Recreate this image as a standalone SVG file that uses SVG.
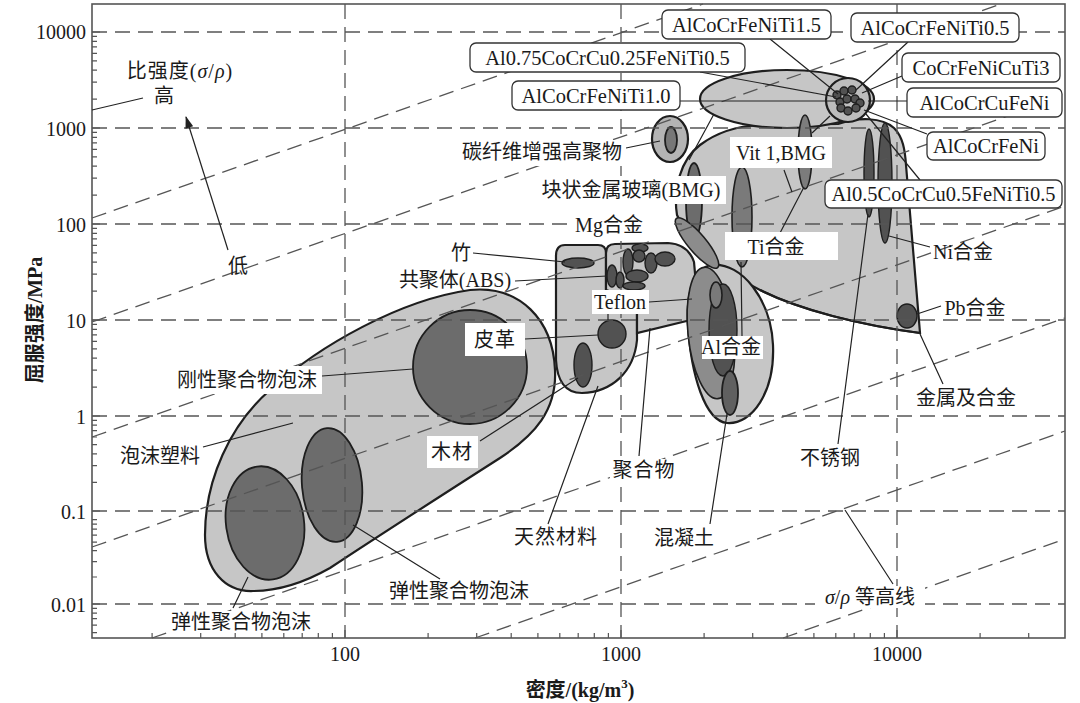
<svg xmlns="http://www.w3.org/2000/svg" width="1080" height="703" viewBox="0 0 1080 703">
<defs>
<marker id="arr" viewBox="0 0 12 8" refX="11" refY="4" markerWidth="13" markerHeight="8" markerUnits="userSpaceOnUse" orient="auto"><path d="M0,0 L12,4 L0,8 Z" fill="#222"/></marker>
</defs>
<style>
.env{fill:#c6c6c6;stroke:#1e1e1e;stroke-width:2.2}
.dk{fill:#6c6c6c;stroke:#1e1e1e;stroke-width:1.8}
.dd{fill:#525252;stroke:#1e1e1e;stroke-width:1.4}
.md{fill:#8c8c8c;stroke:#1e1e1e;stroke-width:1.6}
.grid{stroke:#555;stroke-width:1.3;stroke-dasharray:15 8;fill:none}
.lead{stroke:#222;stroke-width:1.2;fill:none}
.t{font-family:"Liberation Serif","Noto Sans CJK SC",serif;font-size:20px;fill:#1a1a1a;text-anchor:middle;dominant-baseline:central}
.h{font-size:20.5px}
.ax{font-family:"Liberation Serif","Noto Sans CJK SC",serif;font-size:20px;fill:#1a1a1a;dominant-baseline:central}
.box{fill:#fff}
.rb{fill:#fff;stroke:#333;stroke-width:1.3}
.tick{stroke:#555;stroke-width:1.2}
</style>
<rect width="1080" height="703" fill="#fff"/>

<!-- material regions -->
<g id="foams">
<path class="env" d="M253,591 C225,592 205,570 205,535 C205,480 230,425 270,390 C320,345 400,300 470,290 C520,285 553,320 555,370 C557,410 535,435 500,458 C450,490 380,535 330,568 C300,585 275,591 253,591 Z"/>
<ellipse class="dk" cx="265" cy="523" rx="39" ry="57" transform="rotate(-8 265 523)"/>
<ellipse class="dk" cx="332" cy="485" rx="30" ry="57" transform="rotate(-5 332 485)"/>
<circle class="dk" cx="470" cy="367" r="57"/>
</g>
<g id="natural">
<path class="env" d="M565,245 L598,245 Q606,245 606,253 L606,290 L637,300 L637,340 C634,372 612,392 582,393 C565,393 557,380 556,360 L556,256 Q556,245 565,245 Z"/>
<ellipse class="dd" cx="578" cy="263" rx="16" ry="5"/>
<ellipse class="dd" cx="583" cy="365" rx="9" ry="22"/>
<circle class="dd" cx="612" cy="334" r="14"/>
</g>
<g id="polymers">
<path class="env" d="M606,290 L606,253 Q606,244 615,244 L668,243 Q688,244 694,262 L699,318 L637,333 L637,300 Z"/>
<ellipse class="dd" cx="640" cy="248" rx="8" ry="4"/>
<ellipse class="dd" cx="612" cy="276" rx="5" ry="11"/>
<ellipse class="dd" cx="620" cy="280" rx="4" ry="8"/>
<ellipse class="dd" cx="628" cy="262" rx="5" ry="13"/>
<ellipse class="dd" cx="639" cy="256" rx="6" ry="6"/>
<ellipse class="dd" cx="651" cy="263" rx="6" ry="10"/>
<ellipse class="dd" cx="665" cy="259" rx="10" ry="7"/>
<ellipse class="dd" cx="637" cy="276" rx="11" ry="6"/>
<ellipse class="dd" cx="634" cy="286" rx="11" ry="4"/>
</g>
<g id="metals">
<path class="env" d="M677,215 C673,190 680,160 700,145 C716,133 736,126 760,125 L838,124 C858,117 882,117 894,128 C903,137 905,150 906,165 L920,333 C860,325 800,310 760,290 C720,270 690,245 677,215 Z"/>
<ellipse class="dk" cx="694" cy="201" rx="8" ry="38"/>
<ellipse class="md" cx="742" cy="217" rx="10" ry="50" style="fill:#7a7a7a"/>
<ellipse class="dd" cx="869" cy="173" rx="5" ry="44"/>
<ellipse class="dd" cx="885" cy="183" rx="7" ry="60"/>
<ellipse class="dd" cx="907" cy="316" rx="10" ry="12"/>
</g>
<g id="al-concrete">
<path class="env" d="M712,265 C742,262 771,300 773,345 C775,392 752,425 727,423 C705,421 691,375 688,325 C686,292 694,267 712,265 Z"/>
<ellipse class="md" cx="711" cy="333" rx="23" ry="66" transform="rotate(-6 711 333)"/>
<ellipse class="dd" cx="723" cy="330" rx="14" ry="46"/>
<ellipse class="md" cx="716" cy="295" rx="6" ry="13" style="fill:#7a7a7a"/>
<ellipse class="dk" cx="730" cy="393" rx="8" ry="22" style="fill:#606060"/>
<path d="M760,290 C800,310 860,325 920,333" fill="none" stroke="#1e1e1e" stroke-width="2.2"/>
</g>
<g id="mg">
<ellipse class="md" cx="697" cy="243" rx="9" ry="32" transform="rotate(-40 697 243)"/>
</g>
<g id="hea">
<ellipse class="env" cx="787" cy="99" rx="87" ry="29"/>
<ellipse class="md" cx="805" cy="152" rx="7" ry="37" style="fill:#7c7c7c"/>
<circle class="env" cx="848" cy="100" r="22" style="fill:#bdbdbd"/>
<g class="dd">
<circle cx="837" cy="95" r="4"/><circle cx="844" cy="91" r="4"/><circle cx="852" cy="90" r="4"/>
<circle cx="840" cy="102" r="4"/><circle cx="847" cy="99" r="4"/><circle cx="855" cy="99" r="4"/>
<circle cx="860" cy="103" r="4"/><circle cx="841" cy="108" r="4"/><circle cx="848" cy="111" r="4"/>
<circle cx="856" cy="108" r="4"/>
</g>
</g>
<g id="cfrp">
<ellipse class="env" cx="670" cy="139" rx="18" ry="23" style="fill:#b4b4b4"/>
<ellipse class="dk" cx="671" cy="140" rx="6" ry="13" style="fill:#777"/>
</g>

<!-- grid and contour lines -->
<g id="grid">
<path class="grid" d="M92,32H1065 M92,128H1065 M92,224H1065 M92,320H1065 M92,416H1065 M92,511H1065 M92,604H1065 M345,4V638 M621,4V638 M897,4V638"/>
<path class="grid" d="M92,218L703,4 M92,322L1001,4 M92,437L1065,96 M92,547L1065,206 M152,638L1065,318 M475,638L1065,431 M783,638L1065,539"/>
</g>

<g id="axes">
<rect x="92" y="4" width="973" height="634" fill="none" stroke="#555" stroke-width="1.6"/>
<path class="tick" d="M92,32h8 M92,128h8 M92,224h8 M92,320h8 M92,416h8 M92,511h8 M92,604h8
M92,99.1h5 M92,82.2h5 M92,70.2h5 M92,60.9h5 M92,53.3h5 M92,46.9h5 M92,41.3h5 M92,36.4h5
M92,195.1h5 M92,178.2h5 M92,166.2h5 M92,156.9h5 M92,149.3h5 M92,142.9h5 M92,137.3h5 M92,132.4h5
M92,291.1h5 M92,274.2h5 M92,262.2h5 M92,252.9h5 M92,245.3h5 M92,238.9h5 M92,233.3h5 M92,228.4h5
M92,387.1h5 M92,370.2h5 M92,358.2h5 M92,348.9h5 M92,341.3h5 M92,334.9h5 M92,329.3h5 M92,324.4h5
M92,482.4h5 M92,465.7h5 M92,453.8h5 M92,444.6h5 M92,437.0h5 M92,430.7h5 M92,425.2h5 M92,420.3h5
M92,577.0h5 M92,561.6h5 M92,550.6h5 M92,542.1h5 M92,535.1h5 M92,529.2h5 M92,524.1h5 M92,519.6h5
M92,632.6h5 M92,625.1h5 M92,618.7h5 M92,613.2h5 M92,608.3h5
M345,638v-8 M621,638v-8 M897,638v-8
M152.1,638v-5 M200.7,638v-5 M235.2,638v-5 M261.9,638v-5 M283.8,638v-5 M302.2,638v-5 M318.3,638v-5 M332.4,638v-5
M428.1,638v-5 M476.7,638v-5 M511.2,638v-5 M537.9,638v-5 M559.8,638v-5 M578.2,638v-5 M594.3,638v-5 M608.4,638v-5
M704.1,638v-5 M752.7,638v-5 M787.2,638v-5 M813.9,638v-5 M835.8,638v-5 M854.2,638v-5 M870.3,638v-5 M884.4,638v-5
M980.1,638v-5 M1028.7,638v-5"/>
<g class="ax" text-anchor="end">
<text x="86" y="32">10000</text><text x="86" y="129">1000</text><text x="86" y="225">100</text>
<text x="86" y="321">10</text><text x="86" y="417">1</text><text x="86" y="512">0.1</text><text x="86" y="605">0.01</text>
</g>
<g class="ax" text-anchor="middle">
<text x="345" y="654">100</text><text x="621" y="654">1000</text><text x="897" y="654">10000</text>
</g>
<text class="t" font-weight="bold" transform="translate(35,320) rotate(-90)">屈服强度/MPa</text>
<text class="t" font-weight="bold" x="580" y="690">密度/(kg/m<tspan font-size="13" dy="-7">3</tspan><tspan dy="7">)</tspan></text>
</g>

<!-- leader lines -->
<g id="connectors" class="lead">
<path d="M770,39L838,94 M908,42L856,90 M700,72L836,97 M680,101L836,101 M902,76L862,93 M907,101L868,101 M927,134L864,110 M920,180L866,114 M830,116L812,133 M689,160L714,114"/>
<path d="M626,148L660,141 M473,253L565,262 M515,281L607,276 M525,339L598,335 M649,302L692,299 M608,314L608,320"/>
<path d="M322,376L413,369 M203,447L293,423 M480,441L578,378 M548,524L598,386 M639,456L650,328 M710,524L727,414 M233,608L248,577 M353,525L440,579"/>
<path d="M838,444L868,214 M930,247L889,236 M941,306L917,314 M943,384L920,334 M893,584L845,510 M784,170L792,192 M780,233L804,187 M741,262L742,336"/>
<path d="M92,110L143,98"/>
<path d="M228,250L186,117" marker-end="url(#arr)"/>
</g>

<!-- HEA labels -->
<g id="lbl-ti15"><rect class="rb" x="662" y="10" width="169" height="29" rx="6"/><text class="t h" x="746.5" y="25">AlCoCrFeNiTi1.5</text></g>
<g id="lbl-ti05"><rect class="rb" x="851" y="13" width="168" height="29" rx="6"/><text class="t h" x="935" y="28">AlCoCrFeNiTi0.5</text></g>
<g id="lbl-al075"><rect class="rb" x="470" y="43" width="275" height="29" rx="6"/><text class="t h" x="607.5" y="58">Al0.75CoCrCu0.25FeNiTi0.5</text></g>
<g id="lbl-ti10"><rect class="rb" x="512" y="81" width="168" height="29" rx="6"/><text class="t h" x="596" y="96">AlCoCrFeNiTi1.0</text></g>
<g id="lbl-cuti3"><rect class="rb" x="902" y="53" width="158" height="29" rx="6"/><text class="t h" x="981" y="68">CoCrFeNiCuTi3</text></g>
<g id="lbl-cufeni"><rect class="rb" x="907" y="88" width="155" height="29" rx="6"/><text class="t h" x="984.5" y="103">AlCoCrCuFeNi</text></g>
<g id="lbl-feni"><rect class="rb" x="927" y="132" width="118" height="28" rx="6"/><text class="t h" x="986" y="146">AlCoCrFeNi</text></g>
<g id="lbl-al05"><rect class="rb" x="825" y="180" width="237" height="28" rx="6"/><text class="t h" x="943.5" y="194">Al0.5CoCrCu0.5FeNiTi0.5</text></g>

<!-- other labels -->
<g id="lbl-bizq"><text class="t" x="180" y="71" letter-spacing="1">比强度(<tspan font-style="italic">σ</tspan>/<tspan font-style="italic">ρ</tspan>)</text></g>
<g id="lbl-gao"><text class="t" x="164" y="96">高</text></g>
<g id="lbl-di"><text class="t" x="238" y="266">低</text></g>
<g id="lbl-cfrp"><rect class="box" x="458" y="140" width="168" height="26"/><text class="t" x="542" y="152">碳纤维增强高聚物</text></g>
<g id="lbl-bmg"><rect class="box" x="538" y="176" width="188" height="28"/><text class="t" x="631" y="190">块状金属玻璃(BMG)</text></g>
<g id="lbl-mg"><rect class="box" x="569" y="207" width="105" height="34"/><text class="t" x="609" y="225">Mg合金</text></g>
<g id="lbl-zhu"><text class="t" x="461" y="253">竹</text></g>
<g id="lbl-abs"><text class="t" x="455" y="280">共聚体(ABS)</text></g>
<g id="lbl-teflon"><rect class="box" x="592" y="290" width="57" height="24"/><text class="t" x="620" y="302">Teflon</text></g>
<g id="lbl-pige"><rect class="box" x="465" y="323" width="60" height="33"/><text class="t" x="495" y="340" letter-spacing="1">皮革</text></g>
<g id="lbl-rigid"><rect class="box" x="172" y="366" width="150" height="28"/><text class="t" x="247" y="380">刚性聚合物泡沫</text></g>
<g id="lbl-foam"><rect class="box" x="118" y="444" width="84" height="24"/><text class="t" x="160" y="456">泡沫塑料</text></g>
<g id="lbl-wood"><rect class="box" x="427" y="436" width="51" height="32"/><text class="t" x="452" y="452" letter-spacing="1">木材</text></g>
<g id="lbl-elast1"><rect class="box" x="386" y="580" width="146" height="22"/><text class="t" x="459" y="591">弹性聚合物泡沫</text></g>
<g id="lbl-elast2"><rect class="box" x="168" y="611" width="146" height="22"/><text class="t" x="241" y="622">弹性聚合物泡沫</text></g>
<g id="lbl-nat"><rect class="box" x="513" y="526" width="86" height="22"/><text class="t" x="556" y="537" letter-spacing="1">天然材料</text></g>
<g id="lbl-poly"><rect class="box" x="610" y="459" width="68" height="22"/><text class="t" x="644" y="470" letter-spacing="1">聚合物</text></g>
<g id="lbl-conc"><rect class="box" x="653" y="527" width="63" height="22"/><text class="t" x="684" y="538">混凝土</text></g>
<g id="lbl-al"><rect class="box" x="702" y="336" width="61" height="23"/><text class="t" x="731" y="347">Al合金</text></g>
<g id="lbl-ti"><rect class="box" x="725" y="232" width="113" height="28"/><text class="t" x="776" y="247">Ti合金</text></g>
<g id="lbl-vit"><rect class="box" x="730" y="137" width="102" height="31"/><text class="t" x="781" y="153">Vit 1,BMG</text></g>
<g id="lbl-ss"><rect class="box" x="797" y="447" width="66" height="22"/><text class="t" x="830" y="458">不锈钢</text></g>
<g id="lbl-ni"><text class="t" x="963" y="252">Ni合金</text></g>
<g id="lbl-pb"><text class="t" x="975" y="308">Pb合金</text></g>
<g id="lbl-metal"><text class="t" x="966" y="398">金属及合金</text></g>
<g id="lbl-contour"><rect class="box" x="815" y="586" width="110" height="22"/><text class="t" x="870" y="597"><tspan font-style="italic">σ</tspan>/<tspan font-style="italic">ρ</tspan> 等高线</text></g>
</svg>
